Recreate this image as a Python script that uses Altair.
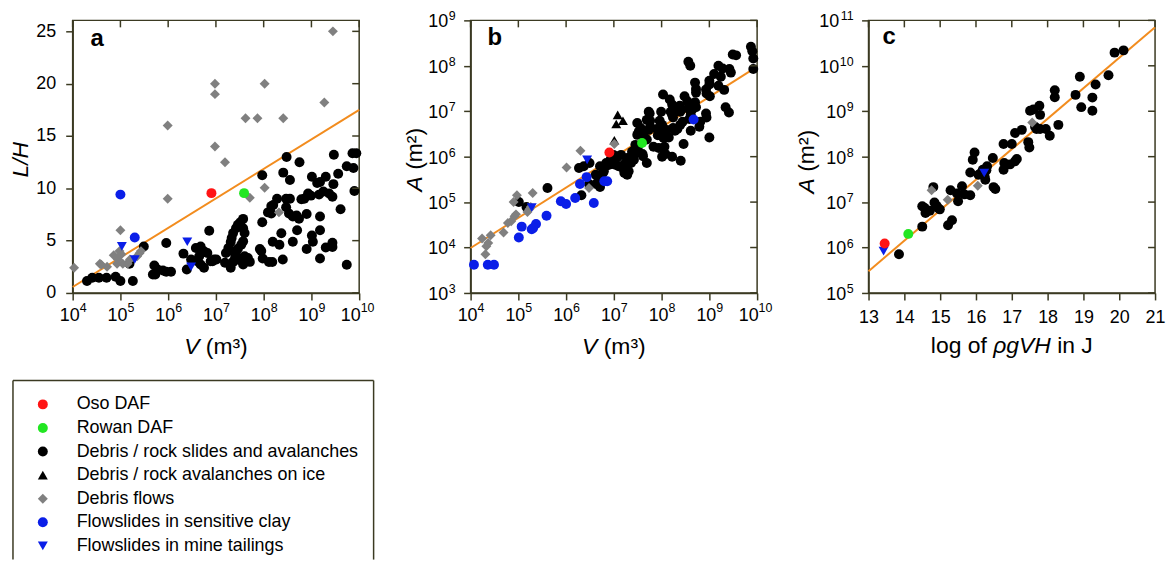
import altair as alt
import pandas as pd

# ---------------- categories & styles ----------------
CATS = ["Oso DAF", "Rowan DAF", "Debris / rock slides and avalanches",
        "Debris / rock avalanches on ice", "Debris flows",
        "Flowslides in sensitive clay", "Flowslides in mine tailings"]
COLORS = ["#ff1414", "#22e622", "#000000", "#000000", "#808080", "#0a1ee8", "#0a1ee8"]
SHAPES = ["circle", "circle", "circle", "triangle-up", "diamond", "circle", "triangle-down"]
SIZES = [100, 100, 49, 45, 60, 42, 42]

FRAME = "#3b3a22"
ORANGE = "#f28c1e"
FONT = "Liberation Sans"

# ---------------- panel a : (log10 V, L/H) ----------------
a_slides = [(4.30,1.14),(4.41,1.45),(4.55,1.45),(4.71,1.45),(4.90,1.55),(5.00,1.14),(5.26,1.14),
            (5.19,2.8),(5.49,4.45),(5.96,4.77),(5.71,2.62),(5.73,1.77),(5.68,1.77),(5.78,2.24),
            (5.89,2.15),(5.96,2.02),(6.06,2.02),(6.32,3.76),(6.39,2.24),(6.48,3.19),(6.58,4.3),
            (6.68,4.45),(6.75,3.98),(6.65,3.51),(6.61,3.03),(6.68,2.72),(6.75,2.4),(6.82,3.82),
            (6.89,3.03),(6.96,3.19),(6.86,5.94),(6.93,3.03),(7.01,3.19),(7.19,2.88),(7.31,2.4),
            (7.57,2.72),(7.71,2.97),(7.67,3.35),(7.60,3.5),(7.53,3.1),(7.46,3.19),(7.36,2.97),
            (7.40,3.35),(7.42,3.67),(7.21,3.82),(7.35,3.98),(7.46,4.23),(7.26,4.3),(7.53,4.61),
            (7.31,4.87),(7.57,4.93),(7.33,5.25),(7.36,5.72),(7.60,5.72),(7.42,6.19),(7.57,6.19),
            (7.46,6.51),(7.51,6.76),(7.57,7.08),(7.92,4.2),(7.95,4.0),(7.98,3.3),(8.11,2.95),
            (8.18,2.95),(8.40,3.2),(7.97,6.75),(8.37,5.7),(8.70,6.0),(8.19,4.9),(8.33,4.6),
            (8.61,4.9),(9.01,5.5),(9.03,4.9),(8.90,4.2),(9.30,4.35),(9.44,4.4),(9.44,4.8),
            (9.18,3.3),(9.74,2.7),(8.28,9.0),(8.47,9.0),(8.55,9.0),(8.16,8.3),(8.20,8.4),
            (8.09,7.7),(8.16,7.6),(8.47,8.2),(8.53,7.6),(8.61,7.3),(8.69,7.4),(8.74,7.1),
            (8.79,8.95),(8.85,9.0),(8.90,7.55),(8.93,9.5),(8.99,9.3),(9.16,9.4),(9.25,9.7),
            (9.37,9.5),(9.44,9.2),(9.61,8.0),(9.18,7.3),(9.18,6.0),(9.01,11.1),(9.12,10.5),
            (9.18,10.6),(9.30,11.1),(9.46,10.4),(9.56,11.4),(9.74,12.1),(9.88,11.95),(9.90,9.75),
            (9.47,13.2),(9.86,13.35),(9.94,13.35),(7.97,11.25),(8.41,11.5),(8.48,13.0),
            (8.55,10.8),(8.75,12.5)]
a_flows = [(4.03,2.4),(4.57,2.8),(4.60,2.7),(4.72,2.5),(4.86,3.6),(4.98,4.0),(5.02,3.7),
           (4.95,3.2),(4.93,2.8),(5.05,2.8),(5.15,2.8),(5.20,3.2),(5.35,3.5),(5.40,3.8),
           (5.43,4.0),(5.00,6.0),(5.99,16.0),(5.99,9.0),(6.98,20.0),(6.98,19.0),(6.98,14.0),
           (7.19,12.5),(7.62,16.7),(7.87,16.7),(8.41,16.7),(8.02,20.0),(9.27,18.2),(9.45,25.0),
           (8.02,10.05),(7.71,9.1),(8.32,7.7)]
a_clay = [(5.00,9.4),(5.30,5.3)]
a_tailings = [(5.03,4.45),(5.30,3.2),(6.40,4.9),(6.48,2.5)]
a_oso = [(6.906,9.54)]
a_rowan = [(7.59,9.54)]
a_fit = [(4.0,0.57),(10.0,17.5)]

# ---------------- panel b : (log10 V, log10 A) ----------------
b_slides = [(5.01,5.0),(5.17,4.89),(5.61,5.31),(6.32,5.15),(6.27,5.75),(6.37,5.79),(6.49,5.86),
            (6.62,5.6),(6.68,5.49),(6.63,5.4),(6.48,5.4),(6.71,5.79),(6.77,5.64),(6.84,5.86),
            (6.93,5.93),(6.71,5.33),(8.56,8.09),(8.60,8.0),(9.19,8.0),(9.28,7.94),(9.45,7.85),
            (9.42,7.93),(9.49,8.25),(9.56,8.23),(9.87,8.42),(9.90,8.32),(9.92,8.16),(9.92,7.93),
            (9.10,7.82),(9.24,7.76),(9.00,7.67),(9.31,7.47),(9.19,7.56),(9.34,7.09),(9.41,6.97),
            (9.00,7.59),(9.01,7.33),(8.93,7.48),(8.94,7.39),(8.70,7.63),(8.72,7.49),(8.72,7.41),
            (8.48,7.33),(8.54,7.22),(8.55,7.06),(8.70,7.2),(8.72,7.09),(8.65,7.05),(8.61,6.93),
            (8.58,6.83),(8.61,6.57),(8.81,6.77),(8.79,6.66),(8.93,6.95),(8.94,6.86),(9.00,6.42),
            (8.03,7.37),(8.17,7.26),(8.22,7.15),(8.25,7.06),(8.19,6.99),(8.22,6.92),(8.24,6.86),
            (8.28,6.99),(8.33,7.06),(8.38,7.12),(8.39,6.99),(7.99,6.99),(7.96,6.79),(8.44,6.77),
            (8.39,6.70),(8.33,6.61),(8.28,6.57),(8.24,6.63),(8.01,6.70),(8.11,6.59),(8.04,6.41),
            (8.15,6.42),(7.96,6.57),(7.90,6.61),(7.92,6.47),(7.73,6.99),(7.75,6.95),(7.69,6.81),
            (7.76,6.79),(7.76,6.66),(7.63,6.44),(7.69,6.38),(7.73,6.59),(7.49,6.74),(7.56,6.63),
            (7.52,6.55),(7.49,6.48),(7.58,6.53),(7.83,6.22),(8.01,6.0),(8.22,6.0),(8.40,5.91),
            (8.08,6.06),(8.06,6.22),(7.94,6.19),(8.46,6.28),(7.69,5.86),(7.45,6.26),(7.50,6.19),
            (7.60,6.06),(7.61,6.01),(7.38,6.11),(7.42,6.04),(7.42,5.93),(7.36,5.86),(7.28,5.97),
            (7.24,5.86),(7.17,5.79),(7.10,5.79),(7.21,5.71),(7.28,5.6),(7.22,5.64),(7.31,5.68),
            (7.03,5.82),(6.97,5.86),(6.90,5.82),(6.83,5.79),(6.79,5.68),(6.94,5.93),(7.07,5.98),
            (7.15,6.04),(6.99,6.04)]
b_ice = [(7.08,6.92),(7.19,6.79),(7.05,6.72),(7.01,6.36)]
b_flows = [(4.24,4.2),(4.31,3.85),(4.33,4.03),(4.37,4.1),(4.42,4.27),(4.69,4.33),(4.78,4.54),
           (4.85,4.58),(4.92,4.69),(4.95,4.73),(4.90,5.0),(4.97,5.15),(5.19,4.78),(5.23,4.84),
           (5.26,4.89),(5.30,5.2),(6.01,5.76),(6.30,6.13),(6.48,5.31),(7.01,6.28)]
b_clay = [(4.07,3.62),(4.36,3.62),(4.49,3.62),(5.01,4.22),(5.07,4.46),(5.28,4.4),(5.37,4.52),
          (5.31,4.43),(5.59,4.7),(5.89,5.02),(6.00,4.96),(6.19,5.09),(6.29,5.4),(6.43,5.55),
          (6.58,4.98),(6.80,5.46),(6.86,5.46),(8.67,6.82)]
b_tailings = [(6.44,5.93),(5.28,4.88)]
b_oso = [(6.906,6.09)]
b_rowan = [(7.59,6.30)]
b_fit = [(4.0,3.99),(10.0,7.98)]

# ---------------- panel c : (log of rho g V H, log10 A) ----------------
c_slides = [(13.85,5.85),(14.50,6.46),(14.50,6.91),(14.57,6.87),(14.59,6.76),(14.71,6.81),
            (14.84,6.99),(14.90,6.92),(14.94,6.87),(14.99,6.84),(14.81,7.33),(15.22,6.49),
            (15.33,6.6),(15.29,7.26),(15.50,7.02),(15.47,7.19),(15.61,7.35),(15.68,7.17),
            (15.84,7.15),(15.84,7.65),(15.91,7.93),(15.96,8.09),(16.07,7.6),(16.14,7.64),
            (16.19,7.71),(16.29,7.7),(16.31,7.79),(16.24,7.57),(16.26,7.49),(16.49,7.33),
            (16.54,7.29),(16.47,7.97),(16.77,8.28),(16.79,7.86),(16.77,7.71),(16.95,7.83),
            (17.00,8.28),(17.09,7.9),(17.14,7.95),(17.09,8.52),(17.28,8.59),(17.46,8.32),
            (17.49,8.2),(17.51,9.01),(17.60,9.04),(17.77,9.12),(17.79,8.92),(17.65,8.66),
            (17.69,8.61),(17.79,8.61),(17.95,8.61),(18.06,8.46),(18.30,8.7),(18.20,9.46),
            (18.20,9.31),(18.78,9.36),(18.90,9.76),(18.94,9.09),(19.25,9.3),(19.25,9.01),
            (19.34,9.59),(19.70,9.79),(19.87,10.29),(20.12,10.34)]
c_flows = [(14.76,7.26),(15.21,7.05),(16.05,7.36),(17.57,8.75)]
c_tailings = [(13.42,5.92),(16.23,7.64)]
c_oso = [(13.45,6.09)]
c_rowan = [(14.11,6.30)]
c_fit = [(13.0,5.48),(21.0,10.85)]

# ---------------- axis ticks (decade exponents / plain values) ----------------
V_EXP = [4, 5, 6, 7, 8, 9, 10]
A_EXP_B = [3, 4, 5, 6, 7, 8, 9]
A_EXP_C = [5, 6, 7, 8, 9, 10, 11]
LH_TICKS = [0, 5, 10, 15, 20, 25]
E_TICKS = [13, 14, 15, 16, 17, 18, 19, 20, 21]

# ---------------- axis titles (text pieces, italic flags, space before) ----------------
TITLE_V = [("V", True, False), ("(m\u00b3)", False, True)]
TITLE_LH = [("L/H", True, False)]
TITLE_A = [("A", True, False), ("(m\u00b2)", False, True)]
TITLE_E = [("log of", False, False), ("\u03c1gVH", True, True), ("in J", False, True)]

W, H = 288, 274
TS = 23          # title font size
LS = 18          # tick-label font size
ES = 12.5        # exponent font size
SPACE = 0.278 * TS


def rows(cat, pts, xlog, ylog):
    return pd.DataFrame({
        "cat": cat,
        "x": [10 ** p[0] if xlog else p[0] for p in pts],
        "y": [10 ** p[1] if ylog else p[1] for p in pts],
    })


def build(groups, xlog, ylog):
    df = pd.concat([rows(c, p, xlog, ylog) for c, p in groups], ignore_index=True)
    df["ord"] = range(len(df))
    return df


def legend_spec():
    return alt.Legend(title=None, orient="none", legendX=-39, legendY=377,
                      labelFont=FONT, labelFontSize=18, labelColor="black",
                      labelLimit=500, rowPadding=5.7, labelOffset=25,
                      padding=0, symbolOffset=0, symbolStrokeWidth=0)


def text_width(s, size):
    # rough Arial advance widths (em) for placing title pieces side by side
    wide = {"m": 0.833, "V": 0.667, "A": 0.667, "H": 0.722, "J": 0.5, "L": 0.556, "/": 0.278,
            " ": 0.278, "(": 0.333, ")": 0.333, "\u00b2": 0.333, "\u00b3": 0.333,
            "l": 0.222, "i": 0.222, "f": 0.278, "o": 0.556, "g": 0.556, "n": 0.556, "\u03c1": 0.575}
    return sum(wide.get(ch, 0.556) for ch in s) * size


def piece_layout(pieces):
    offs, pos = [], 0.0
    for p, it, sp in pieces:
        if sp:
            pos += SPACE
        offs.append(pos)
        pos += text_width(p, TS)
    return offs, pos


def x_title(pieces, baseline_y):
    offs, total = piece_layout(pieces)
    x0 = W / 2 - total / 2
    out = []
    for (p, it, _), o in zip(pieces, offs):
        out.append(alt.Chart(pd.DataFrame({"t": [p]})).mark_text(
            font=FONT, fontSize=TS, fontStyle="italic" if it else "normal", align="left",
            baseline="alphabetic", color="black"
        ).encode(text="t:N", x=alt.value(x0 + o), y=alt.value(baseline_y)))
    return out


def y_title(pieces, baseline_x, center_y):
    offs, total = piece_layout(pieces)
    y0 = center_y + total / 2
    out = []
    for (p, it, _), o in zip(pieces, offs):
        out.append(alt.Chart(pd.DataFrame({"t": [p]})).mark_text(
            font=FONT, fontSize=TS, fontStyle="italic" if it else "normal", align="left",
            baseline="alphabetic", angle=270, color="black"
        ).encode(text="t:N", x=alt.value(baseline_x), y=alt.value(y0 - o)))
    return out


def pow_x_labels(exps, xscale, xax):
    df = pd.DataFrame({"x": [10.0 ** e for e in exps], "e": [str(e) for e in exps],
                       "n": [len(str(e)) for e in exps]})
    out = []
    for n, dx in ((1, 7), (2, 1.5)):
        src = alt.Chart(df).transform_filter(f"datum.n == {n}")
        out.append(src.mark_text(font=FONT, fontSize=LS, align="right", baseline="alphabetic",
                                 dx=dx, color="black").encode(
            x=alt.X("x:Q", scale=xscale, axis=xax), y=alt.value(H + 28), text=alt.value("10")))
        out.append(src.mark_text(font=FONT, fontSize=ES, align="left", baseline="alphabetic",
                                 dx=dx, color="black").encode(
            x=alt.X("x:Q", scale=xscale, axis=xax), y=alt.value(H + 19.5), text="e:N"))
    return out


def pow_y_labels(exps, yscale, yax):
    df = pd.DataFrame({"y": [10.0 ** e for e in exps], "e": [str(e) for e in exps],
                       "n": [len(str(e)) for e in exps]})
    out = []
    for n in (1, 2):
        src = alt.Chart(df).transform_filter(f"datum.n == {n}")
        out.append(src.mark_text(font=FONT, fontSize=LS, align="right", baseline="alphabetic",
                                 dy=7, color="black").encode(
            y=alt.Y("y:Q", scale=yscale, axis=yax), x=alt.value(-15.5 - 7 * n), text=alt.value("10")))
        out.append(src.mark_text(font=FONT, fontSize=ES, align="right", baseline="alphabetic",
                                 dy=0, color="black").encode(
            y=alt.Y("y:Q", scale=yscale, axis=yax), x=alt.value(-15), text="e:N"))
    return out


def panel(df, fit_df, letter, lpos, xscale, yscale, xax, yax, xticks, yticks, legend, extra=()):
    pts = alt.Chart(df).mark_point(filled=True, opacity=1, strokeWidth=0).encode(
        x=alt.X("x:Q", scale=xscale, axis=xax),
        y=alt.Y("y:Q", scale=yscale, axis=yax),
        color=alt.Color("cat:N", scale=alt.Scale(domain=CATS, range=COLORS), legend=legend),
        shape=alt.Shape("cat:N", scale=alt.Scale(domain=CATS, range=SHAPES), legend=legend),
        size=alt.Size("cat:N", scale=alt.Scale(domain=CATS, range=SIZES), legend=legend),
        order=alt.Order("ord:Q"),
    )
    line = alt.Chart(fit_df).mark_line(color=ORANGE, strokeWidth=2).encode(
        x=alt.X("x:Q", scale=xscale, axis=xax),
        y=alt.Y("y:Q", scale=yscale, axis=yax),
    )
    top = alt.Chart(pd.DataFrame({"x": xticks})).mark_rule(color=FRAME, strokeWidth=1.5).encode(
        x=alt.X("x:Q", scale=xscale, axis=xax), y=alt.value(0), y2=alt.value(7))
    right = alt.Chart(pd.DataFrame({"y": yticks})).mark_rule(color=FRAME, strokeWidth=1.5).encode(
        y=alt.Y("y:Q", scale=yscale, axis=yax), x=alt.value(W - 7), x2=alt.value(W))
    lab = alt.Chart(pd.DataFrame({"t": [letter]})).mark_text(
        font=FONT, fontSize=24, fontWeight="bold", align="left", baseline="alphabetic", color="black"
    ).encode(text="t:N", x=alt.value(lpos[0]), y=alt.value(lpos[1]))
    return alt.layer(line, pts, top, right, lab, *extra).properties(width=W, height=H)


def axis(values, labels=True, pad=4):
    return alt.Axis(title=None, values=values, labels=labels, labelPadding=pad)


# ---- data frames ----
df_a = build([(CATS[2], a_slides), (CATS[4], a_flows), (CATS[5], a_clay), (CATS[6], a_tailings),
              (CATS[0], a_oso), (CATS[1], a_rowan)], True, False)
df_b = build([(CATS[2], b_slides), (CATS[3], b_ice), (CATS[4], b_flows), (CATS[5], b_clay),
              (CATS[6], b_tailings), (CATS[0], b_oso), (CATS[1], b_rowan)], True, True)
df_c = build([(CATS[2], c_slides), (CATS[4], c_flows), (CATS[6], c_tailings),
              (CATS[0], c_oso), (CATS[1], c_rowan)], False, True)
fit_a = rows("fit", a_fit, True, False)
fit_b = rows("fit", b_fit, True, True)
fit_c = rows("fit", c_fit, False, True)

V_TICKS = [10.0 ** e for e in V_EXP]
A_TICKS_B = [10.0 ** e for e in A_EXP_B]
A_TICKS_C = [10.0 ** e for e in A_EXP_C]

xs_v = alt.Scale(type="log", domain=[1e4, 1e10])
ys_lh = alt.Scale(domain=[0, 26.05], nice=False, zero=False)
ys_b = alt.Scale(type="log", domain=[1e3, 1e9])
ys_c = alt.Scale(type="log", domain=[1e5, 1e11])
xs_e = alt.Scale(domain=[13, 21], nice=False, zero=False)

ax_v = axis(V_TICKS, labels=False)
ax_lh = axis(LH_TICKS, labels=True, pad=10)
ax_ab = axis(A_TICKS_B, labels=False)
ax_ac = axis(A_TICKS_C, labels=False)
ax_e = axis(E_TICKS, labels=True, pad=9)

# legend frame (three sides; bottom runs off the page like the reference)
one = pd.DataFrame({"k": [0]})
BL, BR, BT, BB = -60, 302.5, 362, 542
box = [
    alt.Chart(one).mark_rule(color=FRAME, strokeWidth=1.5).encode(x=alt.value(BL), x2=alt.value(BR), y=alt.value(BT)),
    alt.Chart(one).mark_rule(color=FRAME, strokeWidth=1.5).encode(x=alt.value(BL), y=alt.value(BT), y2=alt.value(BB)),
    alt.Chart(one).mark_rule(color=FRAME, strokeWidth=1.5).encode(x=alt.value(BR), y=alt.value(BT), y2=alt.value(BB)),
]

XT_Y = H + 61
pa = panel(df_a, fit_a, "a", (18, 26), xs_v, ys_lh, ax_v, ax_lh, V_TICKS, LH_TICKS, legend_spec(),
           extra=box + pow_x_labels(V_EXP, xs_v, ax_v) + x_title(TITLE_V, XT_Y)
           + y_title(TITLE_LH, -45, 140))
pb = panel(df_b, fit_b, "b", (17, 25), xs_v, ys_b, ax_v, ax_ab, V_TICKS, A_TICKS_B, None,
           extra=pow_x_labels(V_EXP, xs_v, ax_v) + pow_y_labels(A_EXP_B, ys_b, ax_ab)
           + x_title(TITLE_V, XT_Y) + y_title(TITLE_A, -49, 140))
pc = panel(df_c, fit_c, "c", (14, 24), xs_e, ys_c, ax_e, ax_ac, E_TICKS, A_TICKS_C, None,
           extra=pow_y_labels(A_EXP_C, ys_c, ax_ac) + x_title(TITLE_E, H + 60)
           + y_title(TITLE_A, -55, 142))

chart = alt.hconcat(pa, pb, pc, spacing=112, bounds="flush").resolve_scale(
    color="independent", shape="independent", size="independent"
).properties(
    padding={"left": 1, "top": 0, "right": 0, "bottom": 0}
).configure(
    background="white", font=FONT
).configure_view(
    stroke=FRAME, strokeWidth=1.5
).configure_axis(
    grid=False, domainColor=FRAME, domainWidth=1.5, tickColor=FRAME, tickWidth=1.5, tickSize=7,
    labelFont=FONT, labelFontSize=LS, labelColor="black", labelFlush=False, labelOverlap=False
)

chart.save("out.html", embed_options={"renderer": "svg", "actions": False})
